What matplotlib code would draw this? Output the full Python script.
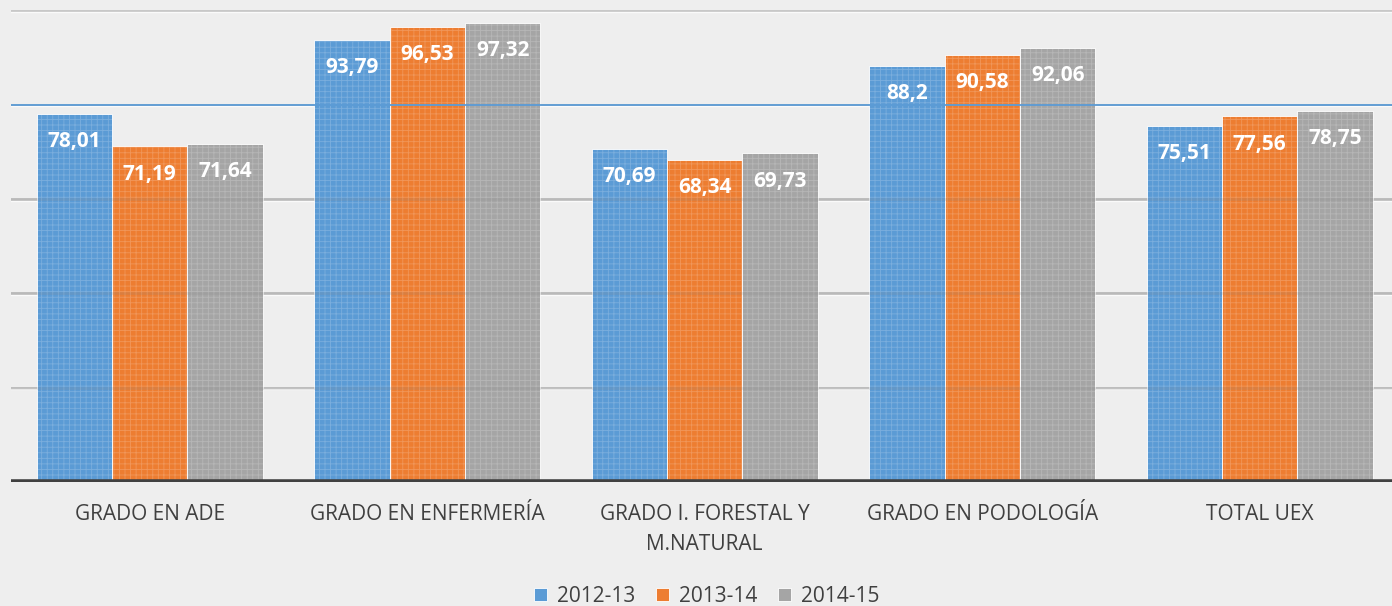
import numpy as np
import matplotlib.pyplot as plt

categories = ["GRADO EN ADE", "GRADO EN ENFERMERÍA", "GRADO I. FORESTAL Y\nM.NATURAL",
              "GRADO EN PODOLOGÍA", "TOTAL UEX"]
series_names = ["2012-13", "2013-14", "2014-15"]
v_2012 = [78.01, 93.79, 70.69, 88.2, 75.51]
v_2013 = [71.19, 96.53, 68.34, 90.58, 77.56]
v_2014 = [71.64, 97.32, 69.73, 92.06, 78.75]
reference_value = 80
label_texts = [["78,01", "93,79", "70,69", "88,2", "75,51"],
               ["71,19", "96,53", "68,34", "90,58", "77,56"],
               ["71,64", "97,32", "69,73", "92,06", "78,75"]]

colors = ["#5b9bd5", "#ed7d31", "#a5a5a5"]
bg = "#eeeeee"

plt.rcParams['font.family'] = ['Open Sans', 'DejaVu Sans']
plt.rcParams['hatch.linewidth'] = 0.6

fig = plt.figure(figsize=(13.92, 6.06), dpi=100, facecolor=bg)
ax = fig.add_axes([11 / 1392, 124 / 606, 5 * 277.5 / 1392, 482 / 606])
ax.set_facecolor(bg)

x = np.arange(len(categories))
w = 0.272
all_vals = [v_2012, v_2013, v_2014]

# gridlines
for yv in [20, 40, 60, 80, 100]:
    ax.axhline(yv, color="#c4c4c4", lw=2, zorder=1)
    ax.axhline(yv - 0.3, color="#fafafa", lw=1, zorder=1)

handles = []
for i, vals in enumerate(all_vals):
    pos = x + (i - 1) * w
    b = ax.bar(pos, vals, w, color=colors[i], edgecolor="#ffffff", linewidth=0.6,
               zorder=2, label=series_names[i])
    ax.bar(pos, vals, w, facecolor="none", edgecolor=(1, 1, 1, 0.2), hatch="+++",
           linewidth=0, zorder=3)
    handles.append(b)
    for xp, v, t in zip(pos, vals, label_texts[i]):
        ax.annotate(t, (xp, v), xytext=(0, -20), textcoords="offset points",
                    ha="center", va="center", color="white", fontsize=15,
                    fontweight="bold", zorder=5)

# grid visible through bars
for yv in [20, 40, 60]:
    ax.axhline(yv, color="#888888", lw=2, alpha=0.18, zorder=4)

ax.axhline(reference_value, color="#5b9bd5", lw=1.3, zorder=4)
ax.axhline(0, color="#404040", lw=4, zorder=6)

ax.set_xlim(-0.5, 4.5)
ax.set_ylim(0, 482 / 4.715)
ax.set_yticks([])
ax.set_xticks(x)
ax.set_xticklabels(categories, fontsize=15, color="#404040", linespacing=1.55)
ax.tick_params(axis="x", length=0, pad=16)
for s in ax.spines.values():
    s.set_visible(False)

leg = fig.legend(handles, series_names, loc="center", bbox_to_anchor=(0.508, 1 - 596 / 606),
                 ncol=3, frameon=False, fontsize=15, handlelength=0.6, handleheight=0.6,
                 handletextpad=0.5, columnspacing=1.0, labelcolor="#404040")

fig.savefig("out.png", dpi=100, facecolor=bg)
